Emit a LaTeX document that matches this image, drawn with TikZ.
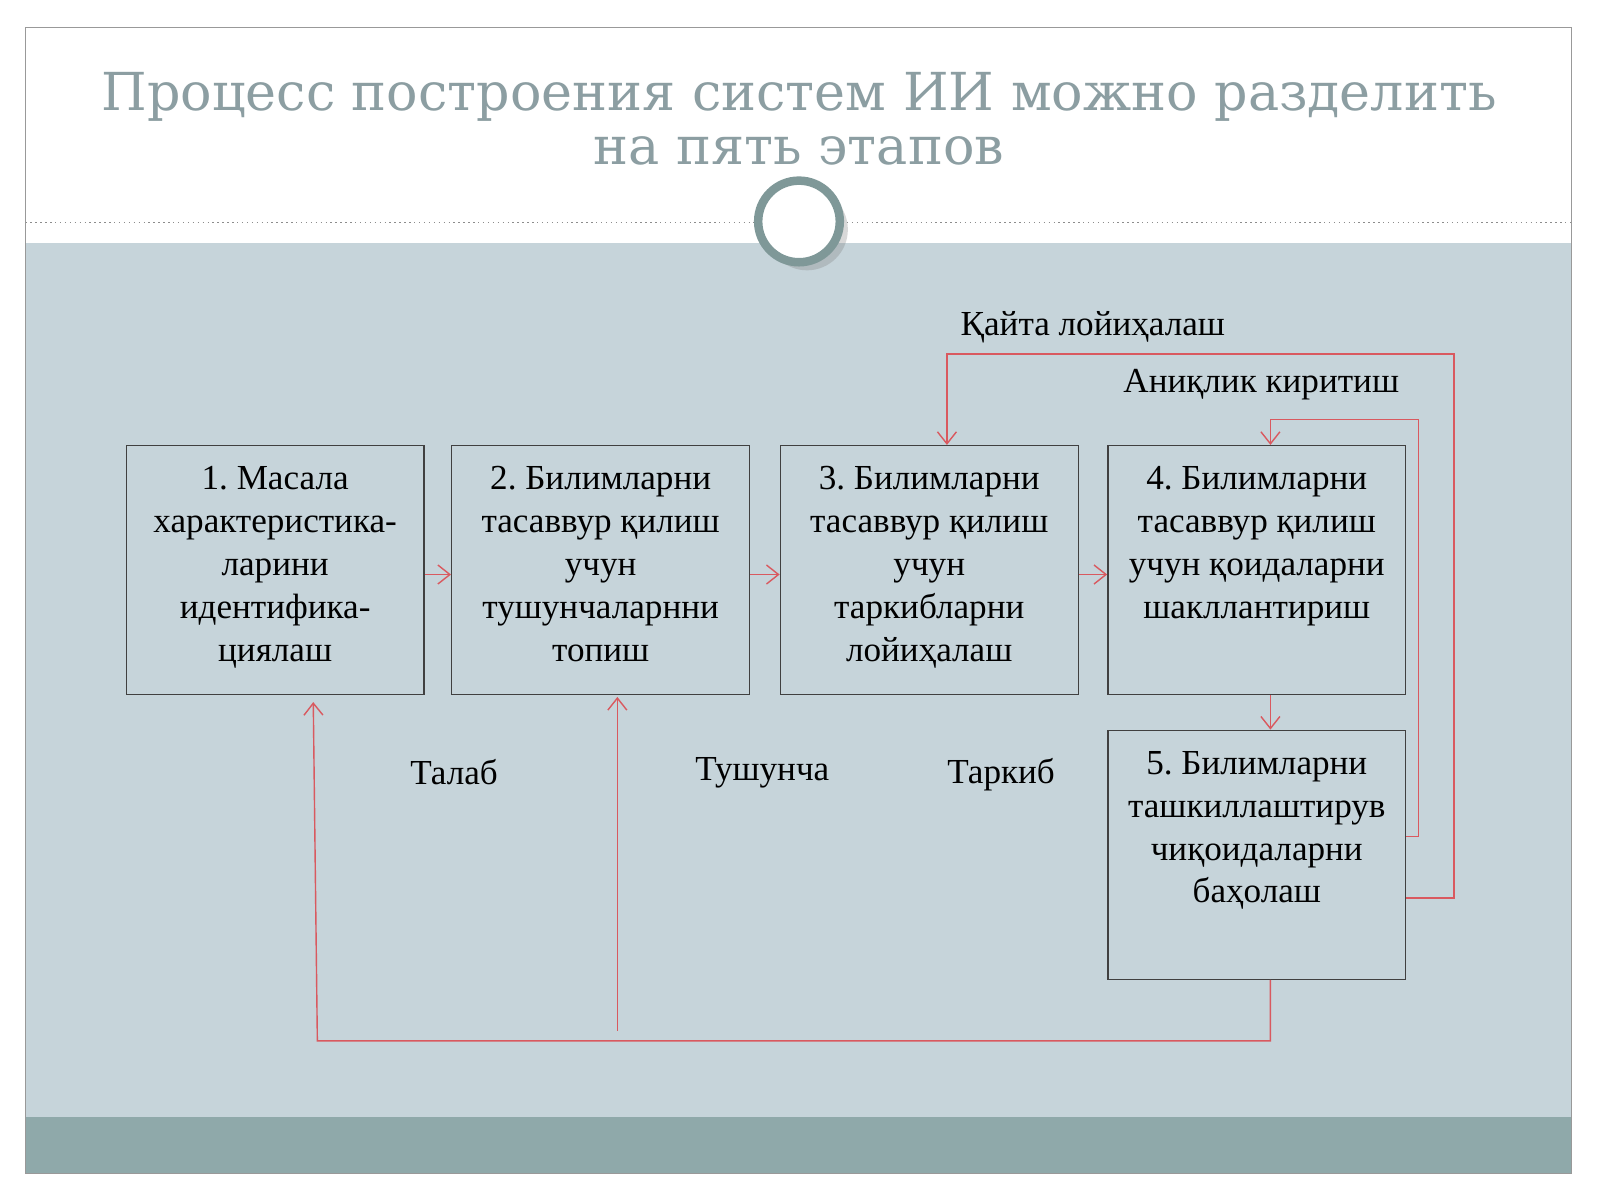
\documentclass[tikz,border=0pt]{standalone}
\usepackage{fontspec}
\setmainfont{Liberation Serif}
\newfontfamily\titlefont{DejaVu Serif}
\usetikzlibrary{positioning,arrows.meta,shadows}
\definecolor{panel}{HTML}{C6D4DA}
\definecolor{band}{HTML}{8FA9AA}
\definecolor{ring}{HTML}{7F9898}
\definecolor{titlegray}{HTML}{8C9EA2}
\definecolor{linkred}{HTML}{D9595F}
\newcommand{\stagetext}[1]{\parbox[t][2.49cm][t]{2.9cm}{\centering\frenchspacing\vspace{6pt}#1}}
\tikzset{
	stage/.style={draw=black!75, thin, minimum width=2.98cm, minimum height=2.49cm,
		anchor=north west, inner sep=0pt, font=\fontsize{10}{12.2}\selectfont},
	link/.style={linkred, thin, -{Straight Barb[length=1.2mm,width=1.9mm]}},
	lbl/.style={font=\fontsize{10}{12}\selectfont}
}
\begin{document}
\begin{tikzpicture}[x=0.010204cm, y=-0.010204cm]
	\useasboundingbox (0,0) rectangle (1568,1176);
	%slide background
	\fill[white] (0,0) rectangle (1568,1176);
	\fill[panel] (25,238) rectangle (1540,1095);
	\fill[band] (25,1095) rectangle (1540,1150);
	\draw[black!40] (25,27) rectangle (1540,1150);
	\draw[black!45, densely dotted] (25,218) -- (1540,218);
	\filldraw[draw=ring, line width=0.85mm, fill=white, drop shadow={opacity=0.3}] (783,217) circle (40);
	%title
	\node[titlegray, align=center, font=\titlefont\fontsize{14.9}{15.4}\selectfont] (title) at (783,116)
		{Процесс построения систем ИИ можно разделить\\на пять этапов};
	%stages
	\node[stage] (b1) at (123,436) {\stagetext{1. Масала\\характеристика-\\ларини\\идентифика-\\циялаш}};
	\node[stage] (b2) at (442,436) {\stagetext{2. Билимларни\\тасаввур қилиш\\учун\\тушунчаларнни\\топиш}};
	\node[stage] (b3) at (764,436) {\stagetext{3. Билимларни\\тасаввур қилиш\\учун\\таркибларни\\лойиҳалаш}};
	\node[stage] (b4) at (1085,436) {\stagetext{4. Билимларни\\тасаввур қилиш\\учун қоидаларни\\шакллантириш}};
	\node[stage] (b5) at (1085,715) {\stagetext{5. Билимларни\\ташкиллаштирув\\чиқоидаларни\\баҳолаш}};
	\draw[link] (b1.east |- 0,563) -- (b2.west |- 0,563);
	\draw[link] (b2.east |- 0,563) -- (b3.west |- 0,563);
	\draw[link] (b3.east |- 0,563) -- (b4.west |- 0,563);
	\draw[link] (b4.south -| 1245,0) -- (b5.north -| 1245,0);
	%feedback loops
	\coordinate (c1) at (1245,1020);
	\draw[link] (b5.south -| c1) -- (c1) -- (311,1020) -- (307,688);
	\draw[link] (605,1010) -- (605,683);
	\draw[link] (b5.east |- 0,820) -- (1390,820) -- (1390,411) -- (1245,411) -- (b4.north -| 1245,0);
	\draw[link] (b5.east |- 0,880) -- (1425,880) -- (1425,347) -- (928,347) -- (b3.north -| 928,0);
	%labels
	\node[lbl] (l1) at (1071,321) {Қайта лойиҳалаш};
	\node[lbl] (l2) at (1236,377) {Аниқлик киритиш};
	\node[lbl] (l3) at (445,757) {Талаб};
	\node[lbl] (l4) at (747,757) {Тушунча};
	\node[lbl] (l5) at (981,759) {Таркиб};
\end{tikzpicture}
\end{document}
